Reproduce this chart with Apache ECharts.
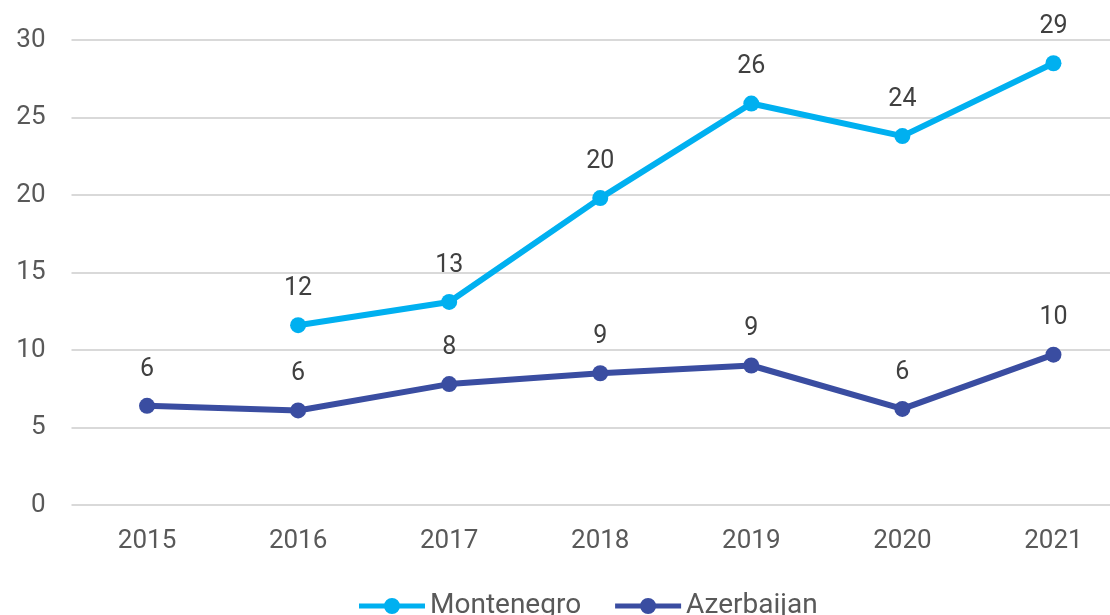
<!DOCTYPE html>
<html>
<head>
<meta charset="utf-8">
<script src="https://cdn.jsdelivr.net/npm/echarts@6/dist/echarts.min.js"></script>
<style>
  html, body { margin: 0; padding: 0; background: #fff; overflow: hidden; }
  #chart { width: 1129px; height: 615px; }
</style>
</head>
<body>
<div id="chart"></div>
<script>
const years = ['2015', '2016', '2017', '2018', '2019', '2020', '2021']
const montenegro = [null, 11.6, 13.1, 19.8, 25.9, 23.8, 28.5]
const azerbaijan = [6.4, 6.1, 7.8, 8.5, 9.0, 6.2, 9.7]

// legend icon: thick line with a dot in the middle
const legendIcon = 'path://M0,5.5 L66,5.5 L66,10.5 L0,10.5 Z M25,8 A8,8 0 1,1 41,8 A8,8 0 1,1 25,8 Z'

const myChart = echarts.init(document.getElementById('chart'))
const labelStyle = {
  show: true,
  position: 'top',
  distance: 16,
  fontFamily: 'Roboto',
  fontSize: 25,
  color: '#404040',
  formatter: p => Math.round(p.value)
}
const option = {
  animation: false,
  textStyle: { fontFamily: 'Roboto' },
  grid: { left: 71.5, right: 0, top: 40, bottom: 110 },
  legend: {
    bottom: -10,
    left: 354,
    itemWidth: 66,
    itemHeight: 16,
    itemGap: 34,
    textStyle: { fontSize: 28, color: '#595959', fontFamily: 'Roboto' },
    data: [
      { name: 'Montenegro', icon: legendIcon },
      { name: 'Azerbaijan', icon: legendIcon }
    ]
  },
  xAxis: {
    type: 'category',
    data: years,
    axisLine: { show: false },
    axisTick: { show: false },
    axisLabel: { fontSize: 26, color: '#595959', margin: 23 }
  },
  yAxis: {
    type: 'value',
    min: 0,
    max: 30,
    interval: 5,
    axisLabel: { fontSize: 26, color: '#595959', margin: 26 },
    splitLine: { lineStyle: { color: '#d9d9d9', width: 2 } }
  },
  series: [
    {
      name: 'Montenegro',
      type: 'line',
      data: montenegro,
      symbol: 'circle',
      symbolSize: 16,
      lineStyle: { color: '#00B0F0', width: 6 },
      itemStyle: { color: '#00B0F0' },
      label: labelStyle
    },
    {
      name: 'Azerbaijan',
      type: 'line',
      data: azerbaijan,
      symbol: 'circle',
      symbolSize: 16,
      lineStyle: { color: '#3A4DA1', width: 6 },
      itemStyle: { color: '#3A4DA1' },
      label: labelStyle
    }
  ]
}
myChart.setOption(option)
</script>
</body>
</html>
